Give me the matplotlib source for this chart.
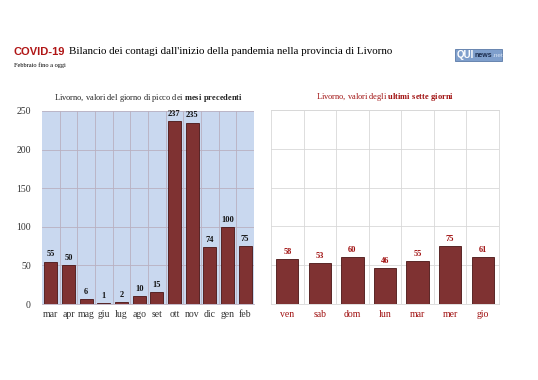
import matplotlib
matplotlib.use("Agg")
import matplotlib.pyplot as plt
from matplotlib.patches import Rectangle

# data
mesi = ["mar", "apr", "mag", "giu", "lug", "ago", "set", "ott", "nov", "dic", "gen", "feb"]
picco = [55, 50, 6, 1, 2, 10, 15, 237, 235, 74, 100, 75]
giorni = ["ven", "sab", "dom", "lun", "mar", "mer", "gio"]
ultimi = [58, 53, 60, 46, 55, 75, 61]
yticks = [0, 50, 100, 150, 200, 250]

BAR = "#7f3232"
EDGE = "#4a1414"
RED = "#a01010"
SERIF = "Liberation Serif"

plt.rcParams["mathtext.fontset"] = "custom"
plt.rcParams["mathtext.rm"] = SERIF
plt.rcParams["mathtext.bf"] = SERIF + ":bold"

W, H = 538, 380
fig = plt.figure(figsize=(W / 100, H / 100), dpi=100)
renderer = fig.canvas.get_renderer()


def after(txt, gap):
    # x position (figure fraction) just right of an existing text
    bb = txt.get_window_extent(renderer)
    return (bb.x1 + gap) / W


# title
t0 = fig.text(14 / W, 1 - 52 / H, "COVID-19", fontsize=8, fontweight="bold",
              color="#b01515", family="Liberation Sans", va="center")
fig.text(after(t0, 4), 1 - 52 / H,
         "Bilancio dei contagi dall'inizio della pandemia nella provincia di Livorno",
         fontsize=7.9, family=SERIF, va="center")
fig.text(14 / W, 1 - 65 / H, "Febbraio fino a oggi", fontsize=4.6, family=SERIF, va="center")

# logo
fig.patches.append(Rectangle((455 / W, 1 - 61 / H), 47 / W, 12 / H, transform=fig.transFigure,
                             facecolor="#7f9fcc", edgecolor="#5a7aa8", lw=0.6))
l1 = fig.text(456.5 / W, 1 - 55 / H, "QUI", fontsize=7, fontweight="bold", color="white",
              family="Liberation Sans", va="center")
l2 = fig.text(after(l1, 0.3), 1 - 55.8 / H, "news", fontsize=5, fontweight="bold",
              color="#1a2a4a", family="Liberation Sans", va="center")
fig.text(after(l2, 0.3), 1 - 55.8 / H, ".net", fontsize=4.6, color="#d8e4f4",
         family="Liberation Sans", va="center")

# left panel
ax1 = fig.add_axes([42 / W, 1 - 304 / H, 212 / W, 193 / H])
ax1.set_facecolor("#c9d8ef")
x1 = range(len(mesi))
ax1.bar(x1, picco, width=0.72, color=BAR, edgecolor=EDGE, linewidth=0.6, zorder=3)
for i, v in enumerate(picco):
    ax1.text(i, v + 4, str(v), ha="center", va="bottom", fontsize=6, fontweight="bold",
             family=SERIF, color="#111111")
ax1.set_xlim(-0.5, len(mesi) - 0.5)
ax1.set_ylim(0, 250)
ax1.set_yticks(yticks)
ax1.set_xticks(list(x1))
ax1.set_xticklabels(mesi, family=SERIF, fontsize=7, color="#333333")
ax1.set_yticklabels([str(t) for t in yticks], family=SERIF, fontsize=7, color="#333333")
ax1.set_xticks([i + 0.5 for i in range(len(mesi) - 1)], minor=True)
ax1.grid(True, which="minor", axis="x", color="#b9b0c0", lw=0.6, zorder=1)
ax1.grid(True, which="major", axis="y", color="#b9b0c0", lw=0.6, zorder=1)
ax1.tick_params(length=0, pad=4)
ax1.tick_params(axis="y", pad=8)
ax1.tick_params(which="minor", length=0)
for s in ax1.spines.values():
    s.set_visible(False)
ax1.spines["bottom"].set_visible(True)
ax1.spines["bottom"].set_color("#b9b0c0")
ax1.spines["bottom"].set_linewidth(0.6)
ax1.set_title("Livorno, valori del giorno di picco dei $\\mathbf{mesi\\ precedenti}$", fontsize=6,
              family=SERIF, pad=8, color="#222222")

# right panel
ax2 = fig.add_axes([271 / W, 1 - 304 / H, 228 / W, 194 / H])
x2 = range(len(giorni))
ax2.bar(x2, ultimi, width=0.68, color=BAR, edgecolor=EDGE, linewidth=0.6, zorder=3)
for i, v in enumerate(ultimi):
    ax2.text(i, v + 4, str(v), ha="center", va="bottom", fontsize=6, fontweight="bold",
             family=SERIF, color=RED)
ax2.set_xlim(-0.5, len(giorni) - 0.5)
ax2.set_ylim(0, 250)
ax2.set_yticks(yticks)
ax2.set_yticklabels([])
ax2.set_xticks(list(x2))
ax2.set_xticklabels(giorni, family=SERIF, fontsize=7, color=RED)
ax2.set_xticks([i + 0.5 for i in range(len(giorni) - 1)], minor=True)
ax2.grid(True, which="minor", axis="x", color="#d8d8d8", lw=0.6, zorder=1)
ax2.grid(True, which="major", axis="y", color="#d8d8d8", lw=0.6, zorder=1)
ax2.tick_params(length=0, pad=4)
ax2.tick_params(which="minor", length=0)
for s in ax2.spines.values():
    s.set_color("#d8d8d8")
    s.set_linewidth(0.6)
ax2.set_title("Livorno, valori degli $\\mathbf{ultimi\\ sette\\ giorni}$", fontsize=6,
              family=SERIF, pad=8, color=RED)

fig.savefig("out.png", dpi=100)
